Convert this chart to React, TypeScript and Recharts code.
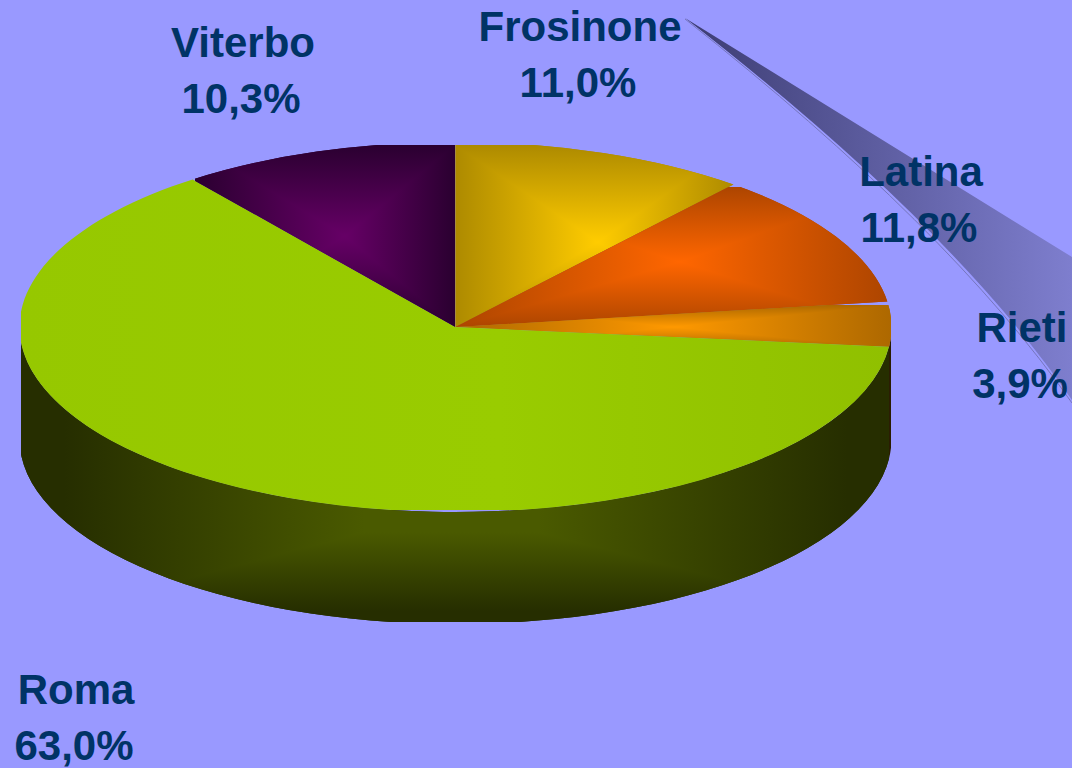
import React from "react";
import { PieChart, Pie } from "recharts";

const provinces = ["Frosinone", "Latina", "Rieti", "Roma", "Viterbo"];
const shares = [11.0, 11.8, 3.9, 63.0, 10.3];
const rows = provinces.map((name, i) => ({ name, value: shares[i] }));

const W = 1072;
const H = 768;
const CX = 455.5;
const CY = 327;
const RX = 436;
const RY = 185;
const DEPTH = 112;
const CLIP = { x0: 21, x1: 891, y0: 145, y1: 510 };
const INK = "#003366";
const BG = "#9999FF";

// rectangular "path" shading of each top face: bright colour, edge colour, box and focus
const SHADES: Record<string, { hi: string; lo: string; box: number[] }> = {
  Frosinone: { hi: "#FFCC00", lo: "#AD8A00", box: [455, 145, 735, 327, 598, 242] },
  Latina: { hi: "#FF6600", lo: "#AD4500", box: [455, 187, 888, 327, 680, 262] },
  Rieti: { hi: "#FF9900", lo: "#AD6800", box: [455, 305, 891, 348, 673, 327] },
  Viterbo: { hi: "#660066", lo: "#2A0030", box: [195, 145, 455, 327, 345, 236] },
};
const WALL = { hi: "#4A5A00", lo: "#262E00", box: [21, 327, 891, 622, 450, 510] };

const LABELS: Record<string, { x: number; y: number }> = {
  Frosinone: { x: 580, y: 41 },
  Latina: { x: 921, y: 186 },
  Rieti: { x: 1022, y: 342 },
  Roma: { x: 76, y: 704 },
  Viterbo: { x: 243, y: 57 },
};

const rad = (a: number) => (a * Math.PI) / 180;
const pt = (cx: number, cy: number, a: number, dy = 0) => ({
  x: cx + RX * Math.cos(rad(a)),
  y: cy - RY * Math.sin(rad(a)) + dy,
});

function RectShade({ id, hi, lo, box, plateau = 0 }: any) {
  const [x0, y0, x1, y1, mx, my] = box;
  const sides = [
    { k: "l", g: [mx, my, x0, my], p: `${x0},${y0} ${mx},${my} ${x0},${y1}` },
    { k: "r", g: [mx, my, x1, my], p: `${x1},${y0} ${mx},${my} ${x1},${y1}` },
    { k: "t", g: [mx, my, mx, y0], p: `${x0},${y0} ${mx},${my} ${x1},${y0}` },
    { k: "b", g: [mx, my, mx, y1], p: `${x0},${y1} ${mx},${my} ${x1},${y1}` },
  ];
  return (
    <g>
      <defs>
        {sides.map((s) => (
          <linearGradient
            key={s.k}
            id={`${id}-${s.k}`}
            gradientUnits="userSpaceOnUse"
            x1={s.g[0]}
            y1={s.g[1]}
            x2={s.g[2]}
            y2={s.g[3]}
          >
            <stop offset="0" stopColor={hi} />
            {plateau > 0 && <stop offset={plateau} stopColor={hi} />}
            <stop offset={plateau > 0 ? 0.9 : 1} stopColor={lo} />
          </linearGradient>
        ))}
      </defs>
      <rect x={x0} y={y0} width={x1 - x0} height={y1 - y0} fill={lo} />
      {sides.map((s) => (
        <polygon key={s.k} points={s.p} fill={`url(#${id}-${s.k})`} shapeRendering="crispEdges" />
      ))}
    </g>
  );
}

function Slice(props: any) {
  const { cx, cy, startAngle, endAngle, name } = props;
  const a = pt(cx, cy, startAngle);
  const b = pt(cx, cy, endAngle);
  const large = startAngle - endAngle > 180 ? 1 : 0;
  const face = `M${cx},${cy} L${a.x},${a.y} A${RX},${RY} 0 ${large} 1 ${b.x},${b.y} Z`;
  const wa = Math.min(startAngle, 0);
  const wb = Math.max(endAngle, -180);
  let wall = "";
  if (wa > wb) {
    const p = pt(cx, cy, wa);
    const q = pt(cx, cy, wb);
    const p2 = pt(cx, cy, wa, DEPTH);
    const q2 = pt(cx, cy, wb, DEPTH);
    wall = `M${p.x},${p.y} A${RX},${RY} 0 0 1 ${q.x},${q.y} L${q2.x},${q2.y} A${RX},${RY} 0 0 0 ${p2.x},${p2.y} Z`;
  }
  const shade = SHADES[name];
  return (
    <g>
      {wall && (
        <g clipPath="url(#wallClip)">
          {name === "Roma" ? (
            <g>
              <clipPath id="romaWall">
                <path d={wall} />
              </clipPath>
              <g clipPath="url(#romaWall)">
                <RectShade id="wall" {...WALL} plateau={0.2} />
              </g>
            </g>
          ) : (
            <path d={wall} fill="#2A1C00" />
          )}
        </g>
      )}
      <g clipPath="url(#faceClip)">
        {shade ? (
          <g>
            <clipPath id={`face-${name}`}>
              <path d={face} />
            </clipPath>
            <g clipPath={`url(#face-${name})`}>
              <RectShade id={`shade-${name}`} {...shade} />
            </g>
          </g>
        ) : (
          <path d={face} fill="url(#romaTop)" />
        )}
      </g>
    </g>
  );
}

function Label(props: any) {
  const { name, value } = props;
  const pos = LABELS[name];
  const txt = { fontFamily: "'Liberation Sans', Arial, sans-serif", fontWeight: 700, fontSize: 42, fill: INK };
  return (
    <g>
      <text x={pos.x} y={pos.y} textAnchor="middle" {...txt}>
        {name}
      </text>
      <text x={pos.x - 2} y={pos.y + 56} textAnchor="middle" {...txt}>
        {`${Number(value).toFixed(1).replace(".", ",")}%`}
      </text>
    </g>
  );
}

export default function App() {
  return (
    <div style={{ position: "absolute", left: 0, top: 0, width: W, height: H, background: BG, overflow: "hidden" }}>
      <PieChart width={W} height={H} margin={{ top: 0, right: 0, bottom: 0, left: 0 }}>
        <defs>
          <clipPath id="faceClip">
            <rect x={CLIP.x0} y={CLIP.y0} width={CLIP.x1 - CLIP.x0} height={CLIP.y1 - CLIP.y0} />
          </clipPath>
          <clipPath id="wallClip">
            <rect x={CLIP.x0} y={CLIP.y0} width={CLIP.x1 - CLIP.x0} height={CLIP.y1 + DEPTH - CLIP.y0} />
          </clipPath>
          <linearGradient id="romaTop" gradientUnits="userSpaceOnUse" x1={21} y1={0} x2={891} y2={0}>
            <stop offset="0" stopColor="#96C800" />
            <stop offset="0.55" stopColor="#99CC00" />
            <stop offset="1" stopColor="#90C000" />
          </linearGradient>
          <linearGradient id="streak" gradientUnits="userSpaceOnUse" x1={683} y1={0} x2={1072} y2={0}>
            <stop offset="0" stopColor="#3C3C72" />
            <stop offset="1" stopColor="#7E7ECE" />
          </linearGradient>
        </defs>
        <path d="M685,18 L1072,257 L1072,400 Q952,225 685,18 Z" fill="url(#streak)" />
        <path d="M685,19 Q950,228 1072,403" fill="none" stroke="#7676BE" strokeWidth={1} />
        <Pie
          data={rows}
          dataKey="value"
          nameKey="name"
          cx={CX}
          cy={CY}
          innerRadius={0}
          outerRadius={RX}
          startAngle={90}
          endAngle={-270}
          stroke="none"
          isAnimationActive={false}
          shape={Slice}
          label={Label}
          labelLine={false}
        />
      </PieChart>
    </div>
  );
}
